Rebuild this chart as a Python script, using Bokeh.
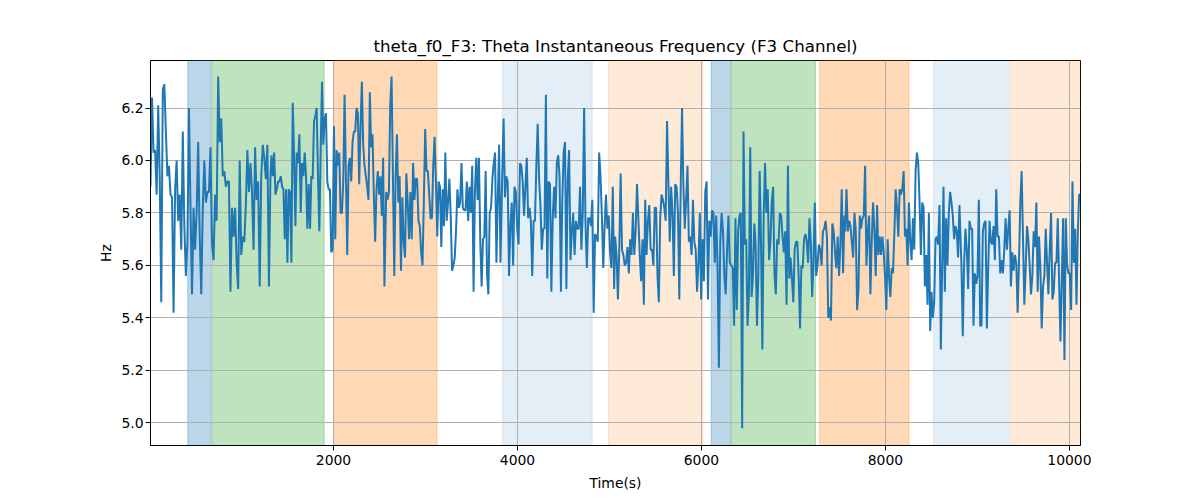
import numpy as np
from bokeh.plotting import figure
from bokeh.models import BoxAnnotation, SingleIntervalTicker, NumeralTickFormatter, Range1d, ColumnDataSource
from bokeh.embed import file_html
from bokeh.resources import INLINE

TITLE = "theta_f0_F3: Theta Instantaneous Frequency (F3 Channel)"

# theta f0 (Hz) in eight consecutive time blocks
f0_seg1 = [5.90, 6.24, 6.03, 6.04, 5.87, 6.21, 5.94, 5.46, 6.27, 6.29, 6.11, 5.94, 5.98, 5.87, 5.86, 5.42,
           5.89, 6.00, 5.77, 5.87, 5.66, 6.11, 5.75, 5.56, 5.69, 6.20, 5.82, 5.49, 5.82, 5.66, 5.80, 6.07,
           5.71, 5.49, 5.82, 6.00, 5.84, 5.88, 5.88, 6.05, 5.68, 5.62, 5.87, 5.77, 6.32, 6.07, 6.16, 5.94,
           5.96, 5.90, 5.92, 5.92, 5.50, 5.82, 5.71, 5.82, 5.61, 5.51, 6.00, 5.64, 5.71, 5.69, 5.83, 6.04,
           5.88, 5.99, 5.88, 5.66, 6.05, 5.85, 5.92, 5.52, 5.94, 6.06, 6.01, 5.93, 6.06, 5.52, 5.94]
f0_seg2 = [6.02, 5.94, 6.03, 5.87, 5.89, 5.92, 5.92, 5.94, 5.90, 5.89, 5.70, 5.89, 5.61, 5.89, 5.88, 5.61,
           6.22, 6.02, 5.75, 6.03, 5.99, 6.10, 5.80, 5.99, 5.94, 6.03, 5.94, 5.74, 5.91, 5.74, 5.94, 5.93,
           6.15, 6.17, 6.20, 5.94, 5.73, 6.03, 6.30, 6.06, 6.16, 6.18, 5.92, 5.89, 5.89, 5.65, 5.66, 6.13,
           5.70, 6.04, 5.98, 6.03, 5.80, 5.80, 5.92, 6.25, 5.94, 5.64, 5.98, 6.01, 5.92, 6.07, 6.11, 6.11,
           6.20, 6.18, 5.91, 6.13, 6.30, 6.06, 5.98, 5.94, 5.90, 5.85, 6.26, 6.05, 6.10, 5.87, 5.69, 5.89,
           5.96, 5.87, 5.94, 5.79, 6.01, 5.52]
f0_seg3 = [5.88, 5.85, 5.88, 6.21, 6.32, 5.94, 5.56, 5.94, 6.10, 5.84, 5.94, 5.58, 5.86, 5.69, 5.63, 5.95,
           5.84, 5.70, 5.88, 5.70, 5.99, 5.85, 5.93, 5.93, 5.77, 5.75, 5.65, 5.60, 5.84, 6.12, 5.96, 5.96,
           5.87, 5.78, 5.78, 5.98, 6.09, 5.92, 5.71, 5.92, 5.90, 5.67, 5.89, 5.75, 6.03, 5.77, 5.84, 5.93,
           5.79, 5.58, 5.60, 5.63, 5.74, 5.89, 5.82, 5.84, 5.99, 5.82, 5.81, 5.81, 5.92, 5.77, 5.90, 5.80,
           5.98, 5.50, 5.88, 6.01, 5.85, 6.01, 5.69, 5.52, 5.70, 5.71, 5.96, 5.57, 5.49, 5.80, 5.82, 5.93,
           5.99, 6.03, 5.61, 5.85, 6.06, 5.61]
f0_seg4 = [5.94, 6.16, 5.86, 5.94, 5.92, 5.56, 5.75, 5.84, 5.60, 5.90, 5.88, 5.74, 5.68, 5.99, 5.98, 5.92,
           5.79, 5.90, 6.01, 5.78, 5.82, 5.77, 5.56, 5.77, 5.77, 5.98, 6.14, 5.93, 5.83, 5.66, 5.74, 5.74,
           6.25, 5.55, 5.92, 5.91, 5.50, 5.78, 5.90, 5.78, 5.99, 6.02, 5.94, 5.50, 5.85, 6.03, 6.07, 5.51,
           5.93, 6.04, 5.62, 5.73, 5.80, 5.64, 5.77, 5.74, 5.74, 5.90, 5.66, 5.80, 6.20, 5.76, 5.59, 5.78,
           5.78, 5.75, 5.85, 5.42, 5.72, 5.71, 5.69, 6.03, 5.94, 5.79, 5.59, 5.75, 5.87, 5.74, 5.79, 5.65,
           5.59, 5.90, 5.51]
f0_seg5 = [5.71, 5.64, 5.47, 5.66, 5.95, 5.66, 5.64, 5.60, 5.61, 5.67, 5.57, 5.70, 5.64, 5.80, 5.64, 5.73,
           5.91, 5.78, 5.64, 5.54, 5.70, 5.45, 5.85, 5.64, 5.77, 5.83, 5.66, 5.66, 5.60, 5.82, 5.82, 5.56,
           5.46, 5.78, 5.87, 5.85, 5.82, 5.77, 6.15, 5.92, 5.69, 5.90, 5.80, 5.56, 5.91, 5.90, 5.80, 5.47,
           5.89, 6.20, 5.90, 5.74, 5.85, 5.98, 5.69, 5.71, 5.64, 5.85, 5.69, 5.66, 5.50, 5.61, 5.80, 5.47,
           5.70, 5.54, 5.88, 5.92, 5.47, 5.77, 5.71, 5.81, 5.80, 5.61, 5.79, 5.60, 5.21, 5.69, 5.80, 5.73,
           5.56, 5.49, 5.66, 5.79, 5.61]
f0_seg6 = [5.59, 5.37, 5.78, 5.43, 5.73, 5.79, 5.80, 4.98, 6.11, 5.68, 5.70, 5.37, 5.49, 6.05, 5.48, 5.56,
           5.76, 5.68, 5.37, 5.56, 5.96, 5.69, 5.28, 5.79, 5.99, 5.80, 5.89, 5.62, 5.69, 5.84, 5.90, 5.57,
           5.49, 5.70, 5.68, 5.80, 5.79, 5.71, 5.65, 5.73, 5.45, 5.98, 5.55, 5.63, 5.55, 5.46, 5.66, 5.69,
           5.69, 5.56, 5.36, 5.60, 5.59, 5.70, 5.72, 5.69, 5.61, 5.78, 5.69, 5.48, 5.61, 5.84, 5.56, 5.60,
           5.68, 5.66, 5.60, 5.73, 5.74, 5.77, 5.71, 5.40, 5.44, 5.39, 5.76, 5.73, 5.65, 5.59, 5.71, 5.56,
           5.68, 5.89, 5.57, 5.79]
f0_seg7 = [5.73, 5.89, 5.73, 5.77, 5.75, 5.69, 5.63, 5.80, 5.73, 5.43, 5.51, 5.79, 5.74, 5.78, 5.79, 5.98,
           5.60, 5.73, 5.79, 5.49, 5.70, 5.84, 5.73, 5.56, 5.83, 5.64, 5.71, 5.64, 5.71, 5.65, 5.56, 5.43,
           5.70, 5.56, 5.48, 5.59, 5.57, 5.72, 5.89, 5.82, 5.71, 5.89, 5.87, 5.89, 5.96, 5.71, 5.74, 5.60,
           5.84, 5.69, 5.62, 5.78, 5.66, 5.96, 6.03, 5.99, 5.84, 5.64, 5.84, 5.82, 5.52, 5.64, 5.45, 5.80,
           5.35, 5.50, 5.40, 5.46, 5.70, 5.71, 5.68, 5.83, 5.28, 5.59, 5.90, 5.50, 5.78, 5.60, 5.80, 5.88,
           5.84, 5.79, 5.70, 5.75, 5.73, 5.63, 5.83]
f0_seg8 = [5.60, 5.33, 5.61, 5.74, 5.66, 5.51, 5.77, 5.74, 5.74, 5.37, 5.57, 5.53, 5.56, 5.85, 5.37, 5.37,
           5.73, 5.76, 5.77, 5.36, 5.59, 5.77, 5.69, 5.68, 5.75, 5.62, 5.89, 5.71, 5.71, 5.57, 5.62, 5.57,
           5.66, 5.78, 5.66, 5.74, 5.81, 5.52, 5.65, 5.58, 5.64, 5.61, 5.42, 5.61, 5.84, 5.96, 5.71, 5.45,
           5.59, 5.75, 5.70, 5.60, 5.49, 5.56, 5.73, 5.67, 5.84, 5.50, 5.71, 5.59, 5.36, 5.52, 5.56, 5.74,
           5.61, 5.49, 5.66, 5.80, 5.47, 5.50, 5.61, 5.61, 5.78, 5.54, 5.31, 5.54, 5.78, 5.24, 5.78, 5.60,
           5.57, 5.57, 5.43, 5.92, 5.61, 5.74, 5.45, 5.73, 5.87, 5.87]

# time (s) covered by each block
seg_start = [11, 1326, 2573, 3834, 5062, 6340, 7562, 8826]
seg_end = [1315, 2554, 3815, 5051, 6308, 7554, 8804, 10120]

# shaded epochs
span_start = [416, 681, 2003, 3837, 4989, 6105, 6326, 7283, 8522, 9366]
span_end = [670, 1899, 3127, 4812, 6014, 6315, 7239, 8257, 9348, 10160]
span_color = ["#1f77b4", "#2ca02c", "#ff7f0e", "#1f77b4", "#ff7f0e",
              "#1f77b4", "#2ca02c", "#ff7f0e", "#1f77b4", "#ff7f0e"]
span_alpha = [0.3, 0.3, 0.3, 0.12, 0.16, 0.3, 0.3, 0.3, 0.12, 0.16]

segments = [f0_seg1, f0_seg2, f0_seg3, f0_seg4, f0_seg5, f0_seg6, f0_seg7, f0_seg8]
t = np.concatenate([np.linspace(a, b, len(s)) for a, b, s in zip(seg_start, seg_end, segments)])
f0 = np.concatenate([np.array(s) for s in segments])
source = ColumnDataSource(dict(t=t, f0=f0))

FONT = "DejaVu Sans"

p = figure(
    width=1200,
    height=500,
    title=TITLE,
    x_range=Range1d(11, 10120),
    y_range=Range1d(4.914, 6.381),
    output_backend="svg",
    toolbar_location=None,
    min_border_left=150,
    min_border_right=120,
    min_border_top=60,
    min_border_bottom=55,
)

for a, b, c, al in zip(span_start, span_end, span_color, span_alpha):
    p.add_layout(BoxAnnotation(left=a, right=b, fill_color=c, fill_alpha=al,
                               line_color=c, line_alpha=al, line_width=1, level="image"))

p.line("t", "f0", source=source, line_color="#1f77b4", line_width=2)

p.title.text_font = FONT
p.title.text_font_size = "16.7px"
p.title.text_font_style = "normal"
p.title.align = "center"
p.title.text_color = "black"

p.xaxis.ticker = SingleIntervalTicker(interval=2000, num_minor_ticks=0)
p.yaxis.ticker = SingleIntervalTicker(interval=0.2, num_minor_ticks=0)
p.xaxis.formatter = NumeralTickFormatter(format="0")
p.yaxis.formatter = NumeralTickFormatter(format="0.0")
p.xaxis.axis_label = "Time(s)"
p.yaxis.axis_label = "Hz"

for ax in (p.xaxis, p.yaxis):
    ax.axis_label_text_font = FONT
    ax.axis_label_text_font_size = "13.9px"
    ax.axis_label_text_font_style = "normal"
    ax.axis_label_text_color = "black"
    ax.major_label_text_font = FONT
    ax.major_label_text_font_size = "13.9px"
    ax.major_label_text_color = "black"
    ax.axis_line_color = "black"
    ax.major_tick_line_color = "black"
    ax.major_tick_out = 5
    ax.major_tick_in = 0
    ax.minor_tick_line_color = None

p.xaxis.major_label_standoff = 4
p.xaxis.axis_label_standoff = 7
p.yaxis.major_label_standoff = 2
p.yaxis.axis_label_standoff = 4

p.grid.grid_line_color = "#b0b0b0"
p.grid.grid_line_width = 1
p.outline_line_color = "black"
p.outline_line_alpha = 1
p.outline_line_width = 1
p.background_fill_color = "white"
p.border_fill_color = "white"

open("out.html", "w").write(file_html(p, INLINE))
